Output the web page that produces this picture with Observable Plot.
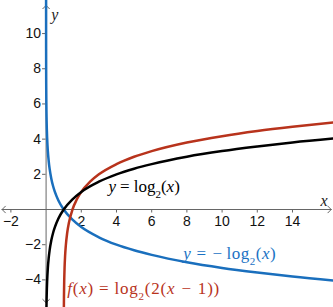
<!DOCTYPE html>
<html><head><meta charset="utf-8">
<script src="https://cdn.jsdelivr.net/npm/d3@7"></script>
<script src="https://cdn.jsdelivr.net/npm/@observablehq/plot@0.6"></script>
<style>body{margin:0;background:#fff} svg{display:block}</style>
</head><body><div id="chart"></div>
<script>
// y = -log2(x)
const blueX = [0.00026, 0.0005, 0.001, 0.002, 0.004, 0.008, 0.015, 0.03, 0.06, 0.1, 0.15, 0.2, 0.3, 0.4, 0.5, 0.7, 1, 1.5, 2, 3, 4, 5, 6, 8, 10, 12, 14, 16.4];
const blueY = [11.91, 10.97, 9.97, 8.97, 7.97, 6.97, 6.06, 5.06, 4.06, 3.32, 2.74, 2.32, 1.74, 1.32, 1, 0.51, 0, -0.58, -1, -1.58, -2, -2.32, -2.58, -3, -3.32, -3.58, -3.81, -4.04];
// y = log2(x)
const blackX = [0.021, 0.03, 0.045, 0.06, 0.1, 0.15, 0.2, 0.3, 0.4, 0.5, 0.7, 1, 1.5, 2, 3, 4, 5, 6, 8, 10, 12, 14, 16.4];
const blackY = [-5.57, -5.06, -4.47, -4.06, -3.32, -2.74, -2.32, -1.74, -1.32, -1, -0.51, 0, 0.58, 1, 1.58, 2, 2.32, 2.58, 3, 3.32, 3.58, 3.81, 4.04];
// f(x) = log2(2(x-1))
const redX = [1.0105, 1.015, 1.02, 1.03, 1.05, 1.08, 1.12, 1.2, 1.3, 1.5, 1.75, 2, 2.5, 3, 4, 5, 6, 8, 10, 12, 14, 16.4];
const redY = [-5.57, -5.06, -4.64, -4.06, -3.32, -2.64, -2.06, -1.32, -0.74, 0, 0.58, 1, 1.58, 2, 2.58, 3, 3.32, 3.81, 4.17, 4.46, 4.70, 4.95];

const xTicks = [-2, 2, 4, 6, 8, 10, 12, 14];
const yTicks = [-4, -2, 2, 4, 6, 8, 10];

const labelX = [3.55, 7.8, 1.2];
const labelY = [1.3, -2.5, -4.5];
const labelText = ["y = log2(x)", "y = − log2(x)", "f(x) = log2(2(x − 1))"];
const labelHTML = [
  '<tspan font-style="italic">y</tspan><tspan dx="4">=</tspan><tspan dx="4">log</tspan><tspan baseline-shift="sub" font-size="11">2</tspan>(<tspan font-style="italic">x</tspan>)',
  '<tspan letter-spacing="0.5"><tspan font-style="italic">y</tspan><tspan dx="5">=</tspan><tspan dx="6">−</tspan><tspan dx="4">log</tspan><tspan baseline-shift="sub" font-size="11">2</tspan>(<tspan font-style="italic">x</tspan>)</tspan>',
  '<tspan letter-spacing="0.8"><tspan font-style="italic">f</tspan>(<tspan font-style="italic">x</tspan>)<tspan dx="5">=</tspan><tspan dx="5">log</tspan><tspan baseline-shift="sub" font-size="11">2</tspan>(2(<tspan font-style="italic">x</tspan><tspan dx="6">−</tspan><tspan dx="6">1))</tspan></tspan>'
];
const labelColor = ["#000000", "#1a72c4", "#b8331c"];

const toPts = (xs, ys) => xs.map((x, i) => ({x, y: ys[i]}));
const blue = toPts(blueX, blueY), black = toPts(blackX, blackY), red = toPts(redX, redY);
const labels = labelX.map((x, i) => ({x, y: labelY[i], i, t: labelText[i]}));

const axisColor = "#666";
const plot = Plot.plot({
  width: 333, height: 307,
  margin: 0,
  x: {domain: [-2.59, 16.33], axis: null},
  y: {domain: [-5.57, 11.88], axis: null},
  style: {background: "#fff", fontFamily: "Liberation Sans, Arial, sans-serif"},
  marks: [
    Plot.arrow([{x1: 0, y1: 0, x2: 16.2, y2: 0}, {x1: 0, y1: 0, x2: -2.5, y2: 0},
                {x1: 0, y1: 0, x2: 0, y2: 11.6}, {x1: 0, y1: 0, x2: 0, y2: -5.3}],
      {x1: "x1", y1: "y1", x2: "x2", y2: "y2", stroke: axisColor, strokeWidth: 1, headLength: 7, headAngle: 90}),
    Plot.ruleX(xTicks, {x: d => d, y1: 0, y2: -0.2, stroke: axisColor}),
    Plot.ruleY(yTicks, {y: d => d, x1: -0.2, x2: 0, stroke: axisColor}),
    Plot.text(xTicks, {x: d => d, y: 0, dy: 12, text: d => String(d).replace("-", "−"), fontSize: 14, fill: "#111"}),
    Plot.text(yTicks, {x: 0, y: d => d, dx: -5, textAnchor: "end", text: d => String(d).replace("-", "−"), fontSize: 14, fill: "#111"}),
    Plot.line(blue, {x: "x", y: "y", stroke: "#1a6fbd", strokeWidth: 2.5, curve: "monotone-x"}),
    Plot.line(red, {x: "x", y: "y", stroke: "#b8331c", strokeWidth: 2.5, curve: "monotone-x"}),
    Plot.line(black, {x: "x", y: "y", stroke: "#000", strokeWidth: 2.5, curve: "monotone-x"}),
    Plot.text([{x: 15.8, y: 0.5, t: "x"}, {x: 0.5, y: 11.05, t: "y"}], {x: "x", y: "y", text: "t", fontSize: 16, fontStyle: "italic", fontFamily: "Liberation Serif, serif", fill: "#222"}),
    Plot.text(labels, {x: "x", y: "y", text: "t", textAnchor: "start", fontSize: 17, fontFamily: "Liberation Serif, serif", fill: d => labelColor[d.i], ariaLabel: d => "fnlabel"})
  ]
});
plot.querySelectorAll('text[aria-label="fnlabel"]').forEach((el, k) => {
  el.innerHTML = labelHTML[k];
});
document.getElementById("chart").appendChild(plot);
</script>
</body></html>
